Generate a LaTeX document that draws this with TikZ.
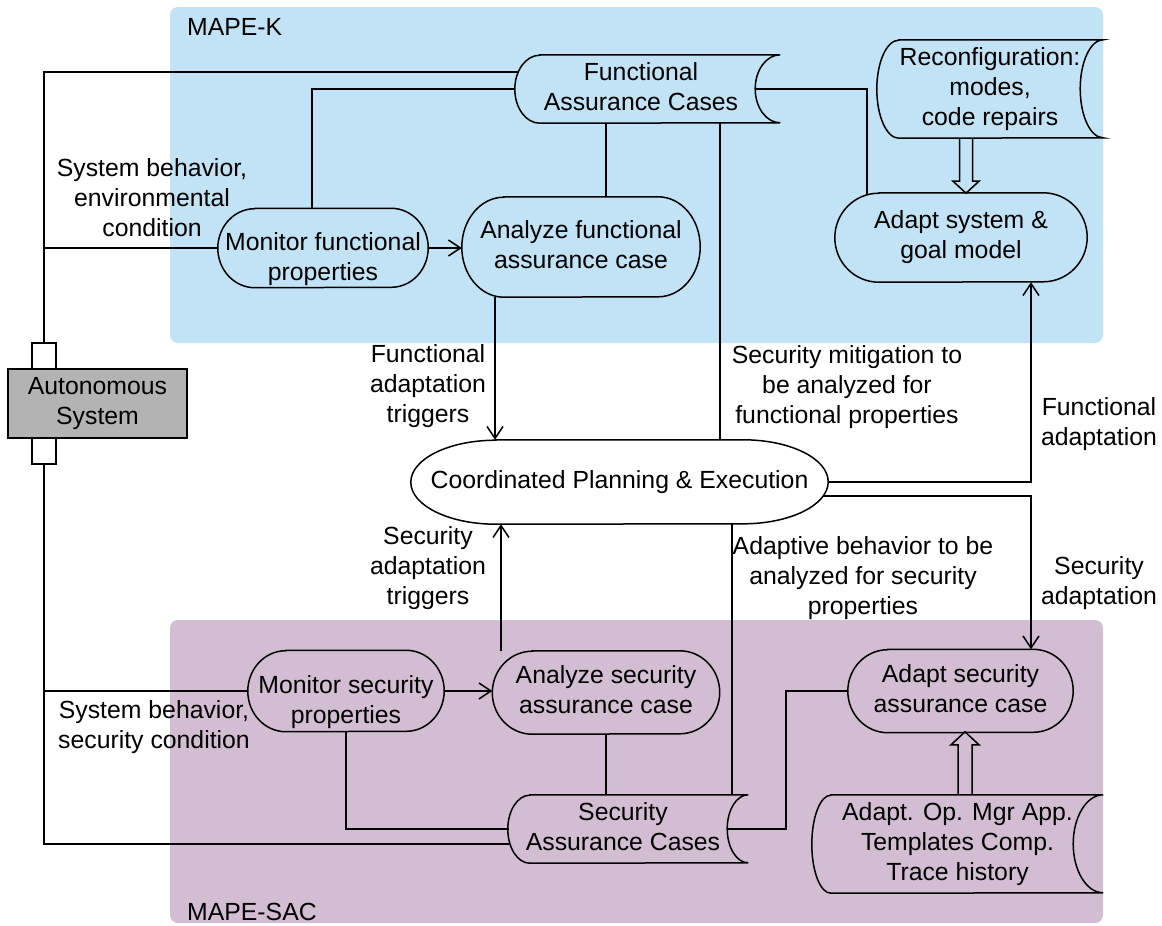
\documentclass[tikz,border=0pt]{standalone}
\usepackage{fontspec}
\setmainfont{Liberation Sans}
\usetikzlibrary{arrows.meta}

\definecolor{kblue}{RGB}{194,227,245}
\definecolor{sacpurple}{RGB}{211,189,211}
\definecolor{sysgray}{RGB}{179,179,179}

% stadium outline around a rectangle node: name, x radius, y radius
\newcommand\capsule[3]{%
  \draw[line width=1.5pt] ([xshift=#2]#1.north west) -- ([xshift=-#2]#1.north east)
    arc[start angle=90,end angle=-90,x radius=#2,y radius=#3]
    -- ([xshift=#2]#1.south west)
    arc[start angle=270,end angle=90,x radius=#2,y radius=#3] -- cycle;}

% stored-data outline: name, left x radius, right x radius, y radius
\newcommand\storeoutline[4]{%
  \draw[line width=1.5pt] ([xshift=#2]#1.north west) -- (#1.north east)
    arc[start angle=90,end angle=270,x radius=#3,y radius=#4]
    -- ([xshift=#2]#1.south west)
    arc[start angle=270,end angle=90,x radius=#2,y radius=#4] -- cycle;}

\begin{document}
\begin{tikzpicture}[x=1pt,y=1pt,
  every node/.style={font=\fontsize{24.8}{30}\selectfont, inner sep=0pt, align=center},
  conn/.style={line width=1.5pt},
  arr/.style={conn, -{Straight Barb[length=12pt,width=16pt]}},
  hollow/.style={line width=1.5pt, line join=miter},
  box/.style={rectangle, minimum width=#1},
  port/.style={rectangle, draw, fill=white, line width=1.5pt, minimum width=24pt, minimum height=26pt}
]
\useasboundingbox (0,0) rectangle (1162,-926);

% loop regions
\fill[kblue, rounded corners=8pt] (170,-7) rectangle (1103,-343);
\fill[sacpurple, rounded corners=8pt] (170,-620) rectangle (1103,-923);
\node[anchor=west] (mapek) at (187,-27) {MAPE-K};
\node[anchor=west] (mapesac) at (187,-912) {MAPE-SAC};

% knowledge stores
\node[box=265pt, minimum height=68pt] (fac) at (647.5,-89) {};
\storeoutline{fac}{25}{25}{34}
\node (factext) at (641,-87) {Functional\\Assurance Cases};
\node[box=226pt, minimum height=98pt] (reconf) at (990,-89) {Reconfiguration:\\modes,\\code repairs};
\storeoutline{reconf}{22}{23}{49}
\node[box=240pt, minimum height=68pt] (sac) at (628,-829) {};
\storeoutline{sac}{22}{21}{34}
\node (sactext) at (623,-827) {Security\\Assurance Cases};
\node[box=291pt, minimum height=98pt] (aop) at (957.5,-844) {Adapt. Op. Mgr App.\\Templates Comp.\\Trace history};
\storeoutline{aop}{19}{30}{49}

% activities
\node[box=210pt, minimum height=79pt] (monf) at (323,-248) {};
\capsule{monf}{37}{39.5}
\node (monftext) at (323,-259) {Monitor functional\\properties};
\node[box=238pt, minimum height=100pt] (anaf) at (581,-247) {};
\capsule{anaf}{42}{50}
\node (anaftext) at (581,-245) {Analyze functional\\assurance case};
\node[box=252pt, minimum height=89pt] (adapt) at (961,-237.5) {Adapt system \&\\goal model};
\capsule{adapt}{44}{44.5}
\node[box=417pt, minimum height=84pt] (cpe) at (619.5,-482) {Coordinated Planning \& Execution};
\capsule{cpe}{85}{42}
\node[box=196pt, minimum height=81pt] (mons) at (346,-691) {};
\capsule{mons}{38}{40.5}
\node (monstext) at (346,-702) {Monitor security\\properties};
\node[box=227pt, minimum height=83pt] (anas) at (606,-692.5) {};
\capsule{anas}{40}{41.5}
\node (anastext) at (606,-690) {Analyze security\\assurance case};
\node[box=225pt, minimum height=83pt] (adas) at (960.5,-691) {};
\capsule{adas}{40}{41.5}
\node (adastext) at (960.5,-689) {Adapt security\\assurance case};

% managed system with its two ports
\node[rectangle, draw, fill=sysgray, line width=1.5pt, minimum width=179pt, minimum height=69pt] (auto) at (97.5,-403.5) {Autonomous\\System};
\node[port] (sqt) at (44,-356) {};
\node[port] (sqb) at (44,-451) {};

% connector labels
\node (lenv) at (152,-197.5) {System behavior,\\environmental\\condition};
\node (lsec) at (154,-727.5) {System behavior,\\security condition};
\node (lfat) at (428,-386) {Functional\\adaptation\\triggers};
\node (lsat) at (428,-568) {Security\\adaptation\\triggers};
\node (lsm) at (847,-387) {Security mitigation to\\be analyzed for\\functional properties};
\node (lab) at (863,-578) {Adaptive behavior to be\\analyzed for security\\properties};
\node (lfa) at (1099,-424.5) {Functional\\adaptation};
\node (lsa) at (1099,-583) {Security\\adaptation};

% functional loop
\draw[conn] (sqt.north) |- ([xshift=3pt,yshift=17pt]fac.west);
\draw[conn] (sqt.north |- monf.west) -- (monf.west);
\draw[conn] ([xshift=-11pt]monf.north) |- (fac.west);
\draw[arr] (monf.east) -- (monf.east -| anaf.west);
\draw[conn] ([xshift=25pt]anaf.north) -- ([xshift=25pt]anaf.north |- fac.south);
\draw[conn] ([xshift=72.5pt]fac.south) -- ([xshift=72.5pt]fac.south |- cpe.north);
\draw[conn] ([xshift=-25pt]fac.east) -| ([xshift=-94pt,yshift=-2pt]adapt.north);
\draw[hollow] ([xshift=-30.5pt]reconf.south) -- ++(0,-43) -- ++(-6.5,0) -- ++(13,-12)
  -- ++(13,12) -- ++(-6.5,0) -- ++(0,43);

% coordination
\draw[arr] ([xshift=-86pt]anaf.south) -- ([xshift=-86pt]anaf.south |- cpe.north);
\draw[arr] (cpe.east) -| ([xshift=70pt]adapt.south);
\coordinate (cpese) at ([xshift=-5pt,yshift=-14pt]cpe.east);
\draw[arr] (cpese) -| ([xshift=70.5pt]adas.north);
\draw[arr] ([xshift=-105pt]anas.north) -- ([xshift=-105pt]anas.north |- cpe.south);
\draw[conn] ([xshift=104pt]sac.north) -- ([xshift=104pt]sac.north |- cpe.south);

% security loop
\draw[conn] (sqb.south) |- ([xshift=2pt,yshift=-15pt]sac.west);
\draw[conn] (sqb.south |- mons.west) -- (mons.west);
\draw[arr] (mons.east) -- (mons.east -| anas.west);
\draw[conn] (mons.south) |- ([xshift=1pt]sac.west);
\draw[conn] (anas.south) -- (anas.south |- sac.north);
\draw[conn] ([xshift=-21pt]sac.east) -- ++(59pt,0) |- (adas.west);
\draw[hollow] ([xshift=0.5pt]aop.north) -- ++(0,50) -- ++(-7,0) -- ++(14,13)
  -- ++(14,-13) -- ++(-7,0) -- ++(0,-50);
\end{tikzpicture}
\end{document}
